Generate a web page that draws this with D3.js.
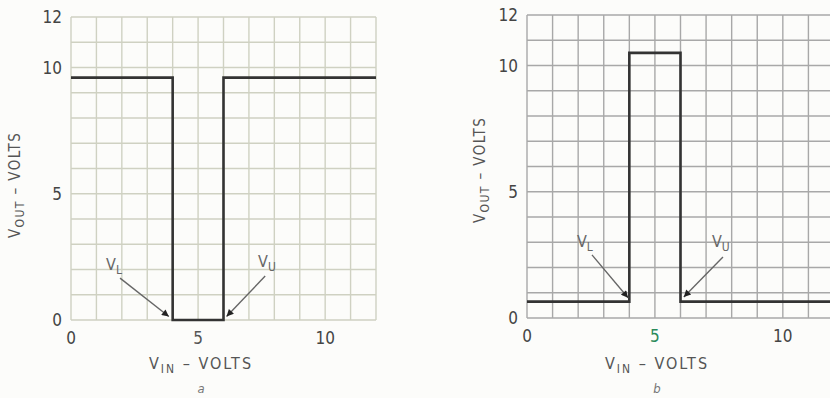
<!DOCTYPE html>
<html><head><meta charset="utf-8">
<script src="https://cdn.jsdelivr.net/npm/d3@7/dist/d3.min.js"></script>
<style>
body{margin:0;background:#fcfcfa;}
svg{display:block;}
text{font-family:"DejaVu Sans Condensed","DejaVu Sans",sans-serif;fill:#555;}
</style></head>
<body>
<script>
// ---- data ----
const gridValues = [0,1,2,3,4,5,6,7,8,9,10,11,12];
const xTickValues = [0,5,10];
const yTickValues = [0,5,10,12];
const curveA = [[0,9.6],[4,9.6],[4,0],[6,0],[6,9.6],[12,9.6]];
const curveB = [[0,0.65],[4,0.65],[4,10.5],[6,10.5],[6,0.65],[12,0.65]];
// annotations: label, sub, label pos, arrow from, arrow to (data units)
const annotA = [
  {t:"V", s:"L", lx:1.38, ly:1.98, x1:1.93, y1:1.66, x2:3.85, y2:0.14},
  {t:"V", s:"U", lx:7.36, ly:2.1, x1:7.64, y1:1.74, x2:6.12, y2:0.14}
];
const annotB = [
  {t:"V", s:"L", lx:1.95, ly:2.81, x1:2.54, y1:2.5, x2:3.95, y2:0.8},
  {t:"V", s:"U", lx:7.23, ly:2.81, x1:7.66, y1:2.42, x2:6.13, y2:0.83}
];

const W=830,H=398;
const svg=d3.select("body").append("svg").attr("width",W).attr("height",H);
svg.append("defs").append("marker").attr("id","ah").attr("viewBox","0 0 10 10")
  .attr("refX",10).attr("refY",5).attr("markerWidth",10).attr("markerHeight",7)
  .attr("markerUnits","userSpaceOnUse").attr("orient","auto")
  .append("path").attr("d","M0,0L10,5L0,10Z").attr("fill","#222");

function panel(cfg){
  const x=d3.scaleLinear().domain([0,12]).range([cfg.x0,cfg.x0+cfg.xw]);
  const y=d3.scaleLinear().domain([0,12]).range([cfg.y0,cfg.y0-cfg.yh]);
  const g=svg.append("g");
  g.selectAll("line.gx").data(gridValues).join("line")
    .attr("x1",d=>x(d)).attr("x2",d=>x(d)).attr("y1",y(0)).attr("y2",y(12))
    .attr("stroke",cfg.grid).attr("stroke-width",1.4);
  g.selectAll("line.gy").data(gridValues).join("line")
    .attr("y1",d=>y(d)).attr("y2",d=>y(d)).attr("x1",x(0)).attr("x2",x(12))
    .attr("stroke",cfg.grid).attr("stroke-width",1.4);
  // ticks
  g.selectAll("text.xt").data(xTickValues).join("text")
    .attr("x",d=>x(d)).attr("y",y(0)+24).attr("text-anchor","middle")
    .attr("font-size",17).style("fill",d=>d===5?cfg.five:"#444").text(d=>d);
  g.selectAll("text.yt").data(yTickValues).join("text")
    .attr("x",x(0)-9).attr("y",d=>y(d)+6).attr("text-anchor","end")
    .attr("font-size",17).style("fill","#444").text(d=>d);
  // curve
  g.append("path").datum(cfg.data)
    .attr("d",d3.line().x(d=>x(d[0])).y(d=>y(d[1])))
    .attr("fill","none").attr("stroke","#333").attr("stroke-width",2.6);
  // annotations
  cfg.ann.forEach(a=>{
    g.append("line").attr("x1",x(a.x1)).attr("y1",y(a.y1)).attr("x2",x(a.x2)).attr("y2",y(a.y2))
      .attr("stroke","#666").attr("stroke-width",1.4).attr("marker-end","url(#ah)");
    const t=g.append("text").attr("x",x(a.lx)).attr("y",y(a.ly)).attr("font-size",16).style("fill","#666");
    t.append("tspan").text(a.t);
    t.append("tspan").attr("dy",4).attr("font-size",12).text(a.s);
  });
  // y title
  const yt=g.append("text").attr("transform",`translate(${cfg.ytx},${cfg.yty}) rotate(-90)`)
    .attr("text-anchor","middle").attr("font-size",15).attr("letter-spacing",1.4);
  yt.append("tspan").text("V");
  yt.append("tspan").attr("dy",4).attr("font-size",12).text("OUT");
  yt.append("tspan").attr("dy",-4).text(" \u2013 VOLTS");
  // x title
  const xt=g.append("text").attr("x",cfg.xtx).attr("y",369).attr("text-anchor","middle")
    .attr("font-size",16).attr("letter-spacing",2);
  xt.append("tspan").text("V");
  xt.append("tspan").attr("dy",4).attr("font-size",12).text("IN");
  xt.append("tspan").attr("dy",-4).text(" \u2013 VOLTS");
  g.append("text").attr("x",cfg.xtx).attr("y",393).attr("text-anchor","middle")
    .attr("font-size",13).attr("font-style","italic").style("fill","#777").text(cfg.letter);
}

panel({x0:71,xw:305,y0:320,yh:303,grid:"#cfd1c2",data:curveA,ann:annotA,five:"#555",
  ytx:20,yty:185,xtx:201,letter:"a"});
panel({x0:527,xw:307,y0:318,yh:303,grid:"#a8a8a8",data:curveB,ann:annotB,five:"#2a8a5a",
  ytx:485,yty:170,xtx:657,letter:"b"});
</script>
</body></html>
